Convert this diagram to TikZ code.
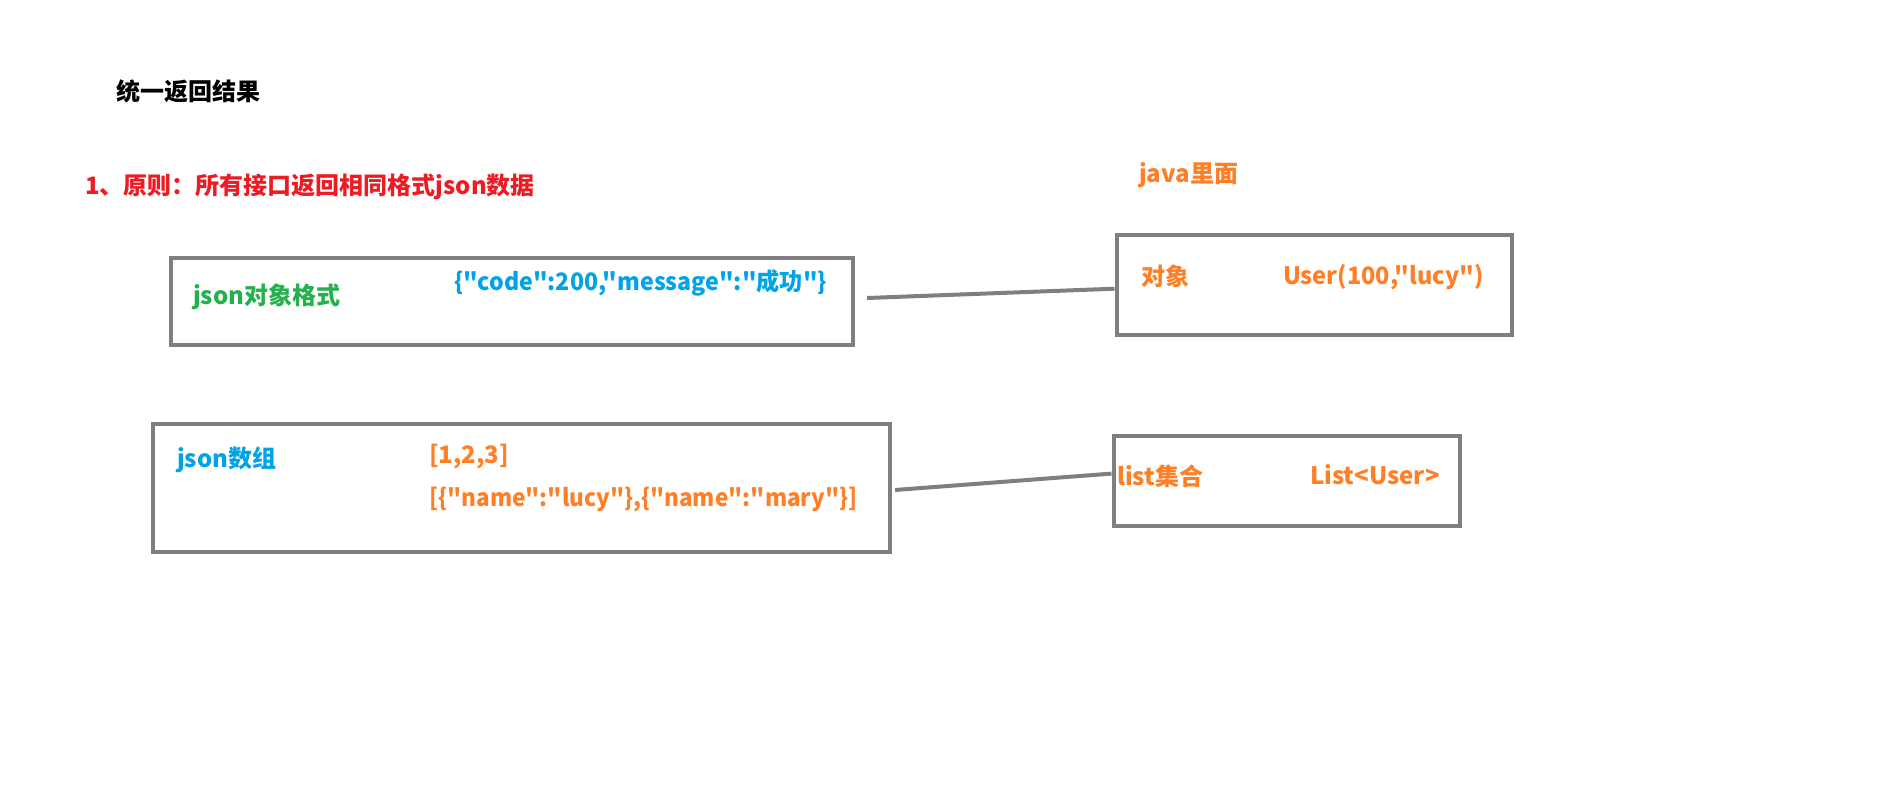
\documentclass[tikz,border=0pt]{standalone}
\usepackage{fontspec}
\setmainfont{Noto Sans CJK SC}[Ligatures=TeXOff]
\usepackage{tikz}

\definecolor{boxgray}{RGB}{127,127,127}
\definecolor{tred}{RGB}{237,28,36}
\definecolor{tgreen}{RGB}{34,177,76}
\definecolor{tblue}{RGB}{0,162,232}
\definecolor{torange}{RGB}{255,127,39}

\tikzset{
  frame/.style={shape=rectangle, draw=boxgray, line width=4pt},
  lbl/.style={anchor=west, inner sep=0pt, font=\bfseries\fontsize{24}{28}\selectfont},
  link/.style={draw=boxgray, line width=4pt}
}

\begin{document}
\begin{tikzpicture}[x=1pt, y=-1pt]
    \useasboundingbox (0,0) rectangle (1904,785);
    \node[lbl, black] at (116,91) (T0) {统一返回结果};
    \node[lbl, tred] at (85,187) (T1) {1、原则：所有接口返回相同格式json数据};
    \node[lbl, torange] at (1139,175) (T2) {java里面};

    \node[frame, minimum width=682pt, minimum height=87pt] at (512,301) (B1) {};
    \node[frame, minimum width=395pt, minimum height=100pt] at (1314,284.7) (B2) {};
    \node[frame, minimum width=737pt, minimum height=128.6pt] at (521.6,487.8) (B3) {};
    \node[frame, minimum width=346pt, minimum height=90pt] at (1286.5,480.6) (B4) {};

    \node[lbl, tgreen] at (193,297) (J1) {json对象格式};
    \node[lbl, tblue] at (454,283) (J2) {\scalebox{0.965}[1]{\{"code":200,"message":"成功"\}}};
    \node[lbl, torange] at (1141,276) (O1) {对象};
    \node[lbl, torange] at (1283,277) (O2) {\scalebox{0.98}[1]{User(100,"lucy")}};
    \node[lbl, tblue] at (177,460) (A1) {json数组};
    \node[lbl, torange] at (429,456) (A2) {[1,2,3]};
    \node[lbl, torange] at (429,499) (A3) {\scalebox{0.94}[1]{[\{"name":"lucy"\},\{"name":"mary"\}]}};
    \node[lbl, torange] at (1117,476) (L1) {list集合};
    \node[lbl, torange] at (1310,475) (L2) {List<User>};

    \coordinate (C1) at (867,298);
    \coordinate (C2) at (895,490);
    \path[link] (C1) -- ([yshift=-4pt]B2.west);
    \path[link] (C2) -- ([yshift=7pt]B4.west);
\end{tikzpicture}
\end{document}
